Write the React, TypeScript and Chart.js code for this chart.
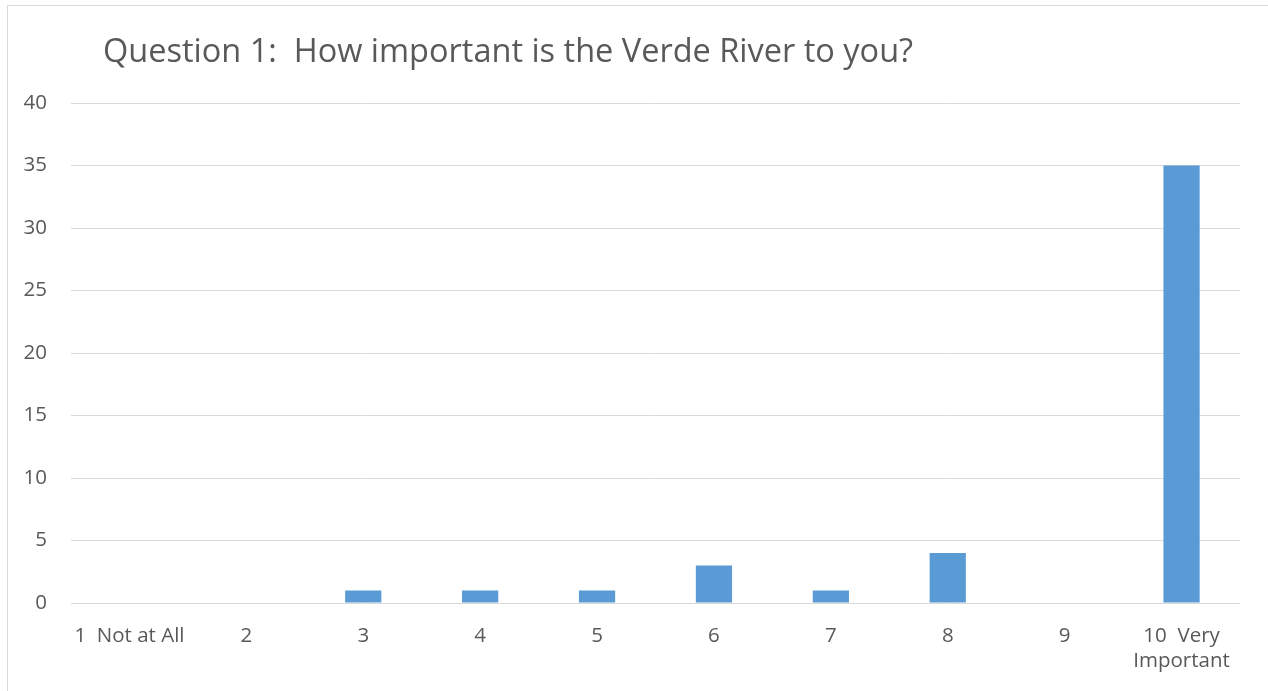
import React, { useEffect, useRef } from "react";
import { Chart, registerables } from "chart.js";

Chart.register(...registerables);

const TITLE = "Question 1:  How important is the Verde River to you?";
const categories: (string | string[])[] = [
  "1  Not at All",
  "2",
  "3",
  "4",
  "5",
  "6",
  "7",
  "8",
  "9",
  ["10  Very", "Important"],
];
const responses: number[] = [0, 0, 1, 1, 1, 3, 1, 4, 0, 35];
const yMin = 0;
const yMax = 40;
const yStep = 5;

const TEXT = "#595959";
const GRID = "#D9D9D9";
const BAR = "#5B9BD5";
const FONT = "'Open Sans'";
const TITLE_SIZE = 32.5;
const TICK_SIZE = 20.5;

const titlePlugin = {
  id: "customTitle",
  afterDraw(chart: any) {
    const ctx = chart.ctx;
    ctx.save();
    ctx.font = `${TITLE_SIZE}px ${FONT}`;
    ctx.fillStyle = TEXT;
    ctx.textBaseline = "alphabetic";
    ctx.textAlign = "left";
    ctx.fillText(TITLE, 103, 62);
    ctx.restore();
  },
};

export default function App() {
  const ref = useRef<HTMLCanvasElement | null>(null);

  useEffect(() => {
    let chart: Chart | null = null;
    let cancelled = false;
    const make = () => {
      if (cancelled || !ref.current) return;
      chart = new Chart(ref.current, {
        type: "bar",
        data: {
          labels: categories,
          datasets: [
            {
              data: responses,
              backgroundColor: BAR,
              borderWidth: 0,
              barPercentage: 0.31,
              categoryPercentage: 1,
            },
          ],
        },
        options: {
          responsive: false,
          animation: false,
          layout: { padding: { top: 103, left: 0, right: 28, bottom: 0 } },
          plugins: {
            legend: { display: false },
            title: { display: false },
            tooltip: { enabled: false },
          },
          scales: {
            x: {
              grid: { display: false, drawTicks: false },
              border: { display: false },
              ticks: {
                color: TEXT,
                font: { family: FONT, size: TICK_SIZE, lineHeight: "25px" },
                padding: 21,
                maxRotation: 0,
                autoSkip: false,
              },
              afterFit(scale: any) {
                scale.height = 88;
              },
            },
            y: {
              min: yMin,
              max: yMax,
              grid: { color: GRID, lineWidth: 1, drawTicks: false },
              border: { display: false },
              ticks: {
                stepSize: yStep,
                color: TEXT,
                font: { family: FONT, size: TICK_SIZE },
                padding: 24,
              },
              afterFit(scale: any) {
                scale.width = 71;
              },
            },
          },
        },
        plugins: [titlePlugin],
      });
    };
    const fonts: any = (document as any).fonts;
    if (fonts && fonts.load) {
      Promise.all([
        fonts.load(`${TITLE_SIZE}px ${FONT}`),
        fonts.load(`${TICK_SIZE}px ${FONT}`),
      ])
        .catch(() => {})
        .then(make);
    } else {
      make();
    }
    return () => {
      cancelled = true;
      if (chart) chart.destroy();
    };
  }, []);

  return (
    <div
      style={{
        position: "fixed",
        left: 0,
        top: 0,
        width: 1268,
        height: 691,
        background: "#ffffff",
        overflow: "hidden",
      }}
    >
      <div
        style={{
          position: "absolute",
          left: 7,
          top: 5,
          width: 1300,
          height: 720,
          borderTop: `1px solid ${GRID}`,
          borderLeft: `1px solid ${GRID}`,
          boxSizing: "border-box",
        }}
      />
      <canvas
        ref={ref}
        width={1268}
        height={691}
        style={{ position: "absolute", left: 0, top: 0, width: 1268, height: 691 }}
      />
    </div>
  );
}
